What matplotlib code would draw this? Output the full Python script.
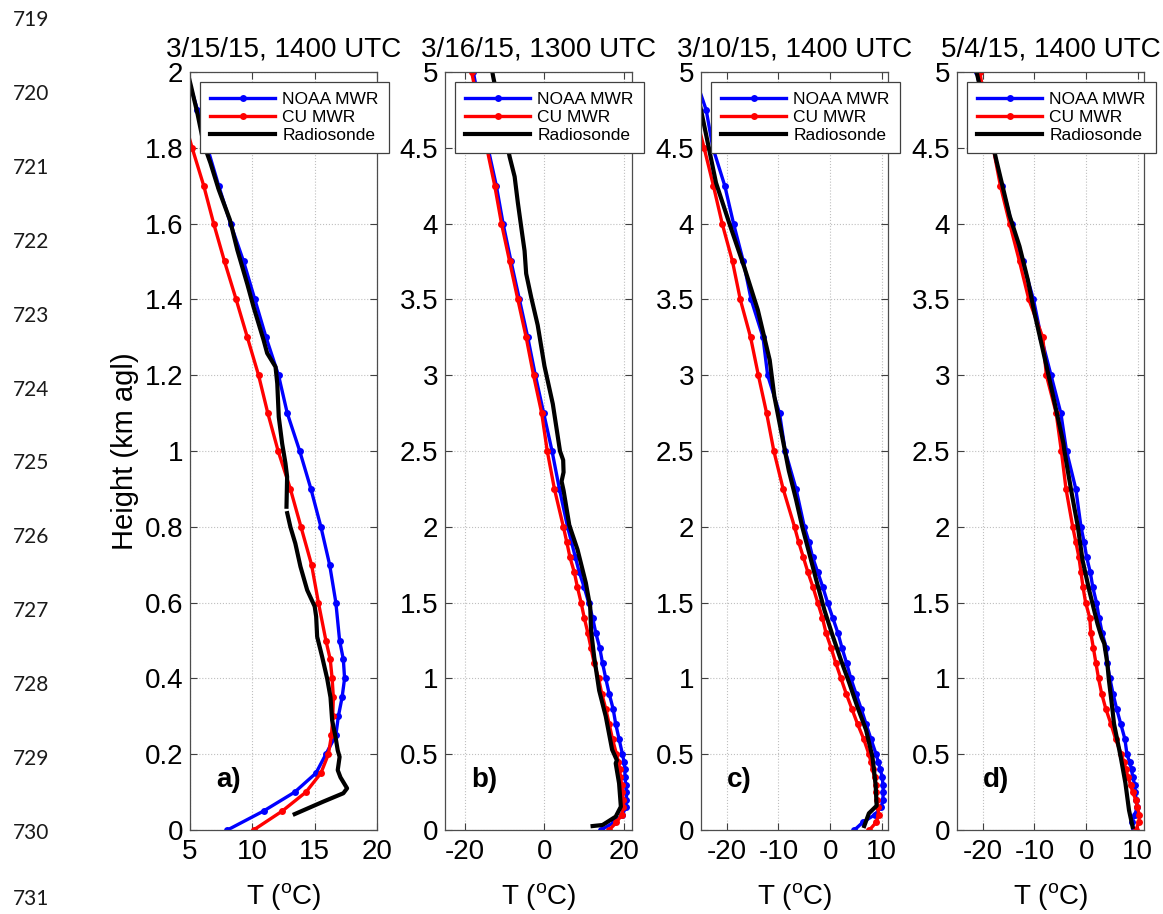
import numpy as np
import matplotlib
matplotlib.use("Agg")
import matplotlib.pyplot as plt

plt.rcParams["font.family"] = ["Liberation Sans", "DejaVu Sans"]
plt.rcParams["axes.unicode_minus"] = False
plt.rcParams["mathtext.fontset"] = "custom"
plt.rcParams["mathtext.rm"] = "Liberation Sans"

# MWR retrieval levels (km agl)
levels = [0, 0.05, 0.1, 0.15, 0.2, 0.25, 0.3, 0.35, 0.4, 0.45, 0.5,
          0.6, 0.7, 0.8, 0.9, 1.0, 1.1, 1.2, 1.3, 1.4, 1.5, 1.6, 1.7, 1.8, 1.9, 2.0,
          2.25, 2.5, 2.75, 3.0, 3.25, 3.5, 3.75, 4.0, 4.25, 4.5, 4.75, 5.0]

titles = ["3/15/15, 1400 UTC", "3/16/15, 1300 UTC", "3/10/15, 1400 UTC", "5/4/15, 1400 UTC"]
panel_tags = ["a)", "b)", "c)", "d)"]

# ---- a) 3/15/15 (levels up to 2 km) ----
noaa_a = [8.0, 10.9, 13.4, 15.1, 15.9, 16.7, 16.9, 17.2, 17.4, 17.3, 17.0,
          16.7, 16.2, 15.5, 14.7, 13.8, 12.8, 12.1, 11.1, 10.2, 9.3, 8.25, 7.3, 6.4, 5.6, 4.7]
cu_a = [10.1, 12.4, 14.3, 15.5, 16.1, 16.35, 16.45, 16.5, 16.4, 16.25, 15.9,
        15.3, 14.75, 13.9, 13.05, 12.07, 11.24, 10.5, 9.6, 8.7, 7.77, 6.9, 6.1, 5.17, 4.3, 3.5]
sonde_a_t = [13.4, 15.7, 17.3, 17.6, 17.07, 16.85, 17.0, 16.85, 16.67, 16.4, 16.27, 16.0,
             15.6, 15.2, 15.12, 15.0, 14.4, 13.86, 13.45, 13.05, 12.8, np.nan, 12.74, 12.79,
             12.66, 12.39, 12.12, 12.0, 11.86, 11.19, 10.9, 10.1, 9.6, 8.8, 8.2, 7.3, 6.64,
             6.1, 5.6, 5.1, 4.8]
sonde_a_h = [0.042, 0.075, 0.097, 0.11, 0.139, 0.158, 0.193, 0.21, 0.246, 0.29, 0.35, 0.40,
             0.457, 0.51, 0.563, 0.59, 0.633, 0.695, 0.756, 0.80, 0.836, np.nan, 0.853, 0.932,
             0.967, 1.02, 1.09, 1.178, 1.222, 1.258, 1.293, 1.38, 1.44, 1.53, 1.61, 1.69, 1.76,
             1.81, 1.89, 1.96, 2.0]

# ---- b) 3/16/15 ----
noaa_b = [14.2, 17.5, 19.6, 20.4, 20.6, 20.6, 20.4, 20.25, 20.2, 20.0, 19.6,
          18.75, 17.9, 17.25, 16.25, 15.4, 14.6, 13.9, 12.9, 12.1, 11.1, 10.0, 8.75, 7.75, 6.8, 5.8,
          3.75, 1.9, -0.2, -2.3, -4.2, -6.3, -8.4, -10.4, -12.1, -14.2, -16.0, -17.9]
cu_b = [16.25, 18.1, 19.4, 19.8, 19.8, 19.6, 19.4, 19.1, 18.9, 18.6, 18.1,
        17.1, 16.25, 15.4, 14.4, 13.6, 12.5, 11.7, 10.9, 10.0, 9.2, 8.3, 7.5, 6.4, 5.6, 4.75,
        2.5, 0.7, -0.7, -2.75, -4.6, -6.7, -8.75, -10.8, -12.5, -14.5, -16.4, -18.3]
sonde_b_t = [12.1, 14.6, 17.9, 19.2, 18.75, 17.9, 18.2, 17.0, 15.4, 13.75, 12.5, 11.7, 11.5,
             10.4, 8.3, 6.25, 4.8, 4.3, 4.8, 4.7, 3.9, 2.1, 0.0, -1.7, -3.3, -4.6, -5.0, -5.7,
             -6.7, -7.5, -8.75, -12.9, -13.1]
sonde_b_h = [0.026, 0.033, 0.088, 0.154, 0.308, 0.44, 0.46, 0.53, 0.75, 0.92, 1.14, 1.32, 1.47,
             1.63, 1.85, 2.01, 2.24, 2.3, 2.36, 2.44, 2.5, 2.81, 3.06, 3.33, 3.51, 3.67, 3.82, 3.95,
             4.14, 4.31, 4.44, 4.97, 5.0]

# ---- c) 3/10/15 ----
noaa_c = [4.7, 6.3, 8.6, 9.9, 10.2, 10.3, 10.2, 10.1, 9.7, 9.3, 8.9,
          7.9, 6.95, 6.0, 5.0, 4.0, 3.2, 2.3, 1.5, 0.5, -0.5, -1.4, -2.4, -3.4, -4.1, -5.0,
          -6.6, -8.7, -9.8, -12.1, -13.0, -15.3, -16.8, -18.7, -20.4, -22.7, -24.0, -26.5]
cu_c = [7.6, 8.9, 9.4, 9.2, 9.0, 8.9, 8.8, 8.6, 8.2, 7.9, 7.5,
        6.5, 5.3, 4.2, 3.1, 2.1, 1.1, 0.2, -0.8, -1.5, -2.4, -3.3, -4.3, -5.2, -6.1, -6.9,
        -9.1, -10.9, -12.3, -13.9, -15.4, -17.4, -18.9, -20.9, -22.6, -24.4, -26.3, -28.0]
sonde_c_t = [6.6, 7.5, 9.0, 8.8, 8.2, 6.95, 5.3, 3.7, 2.1, 0.5, -1.1, -2.7, -4.0, -5.4, -6.6,
             -8.0, -8.8, -10.8, -11.7, -14.0, -16.6, -19.5, -22.1, -25.0, -26.6]
sonde_c_h = [0.026, 0.11, 0.16, 0.3, 0.48, 0.66, 0.81, 0.97, 1.12, 1.28, 1.45, 1.65, 1.82, 2.0,
             2.18, 2.37, 2.51, 2.86, 3.10, 3.43, 3.71, 4.0, 4.27, 4.75, 5.0]

# ---- d) 5/4/15 ----
noaa_d = [9.3, 8.8, 9.4, 9.9, 9.7, 9.5, 9.4, 9.0, 8.8, 8.4, 7.9,
          7.5, 6.7, 5.9, 5.2, 4.6, 4.1, 3.9, 3.1, 2.5, 2.0, 1.3, 0.8, 0.1, -0.4, -1.0,
          -2.0, -3.8, -4.9, -6.8, -8.7, -10.2, -12.3, -14.4, -16.3, -18.0, -19.6, -21.2]
cu_d = [9.6, 10.2, 10.3, 9.9, 9.6, 9.0, 8.6, 8.1, 7.7, 7.3, 6.8,
        5.7, 4.8, 3.8, 3.0, 2.4, 1.9, 1.4, 0.9, 0.7, -0.1, -0.6, -1.0, -1.4, -2.0, -2.6,
        -3.9, -4.8, -5.8, -7.7, -8.4, -11.1, -12.9, -14.8, -16.6, -18.0, -19.3, -20.6]
sonde_d_t = [9.0, 8.3, 7.6, 6.7, 5.4, 4.97, 4.4, 4.1, 3.5, 3.0, 2.2, 0.6, -0.7, -1.6, -2.9,
             -4.2, -4.4, -6.5, -8.4, -10.0, -11.3, -12.9, -14.8, -17.4, -21.2]
sonde_d_h = [0.02, 0.13, 0.31, 0.48, 0.70, 0.83, 0.99, 1.1, 1.23, 1.27, 1.36, 1.58, 1.78, 2.0,
             2.24, 2.5, 2.55, 2.88, 3.17, 3.41, 3.63, 3.85, 4.05, 4.42, 5.0]

noaa = [noaa_a, noaa_b, noaa_c, noaa_d]
cu = [cu_a, cu_b, cu_c, cu_d]
sonde = [(sonde_a_t, sonde_a_h), (sonde_b_t, sonde_b_h),
         (sonde_c_t, sonde_c_h), (sonde_d_t, sonde_d_h)]

xlims = [(5, 20), (-25, 22), (-25, 11.2), (-25, 11.2)]
xticks = [[5, 10, 15, 20], [-20, 0, 20], [-20, -10, 0, 10], [-20, -10, 0, 10]]
ylims = [(0, 2), (0, 5), (0, 5), (0, 5)]
yticks_a = [0, 0.2, 0.4, 0.6, 0.8, 1, 1.2, 1.4, 1.6, 1.8, 2]
yticks_bcd = [0, 0.5, 1, 1.5, 2, 2.5, 3, 3.5, 4, 4.5, 5]

# manuscript line numbers in the left margin
line_numbers = [719, 720, 721, 722, 723, 724, 725, 726, 727, 728, 729, 730, 731]

fig = plt.figure(figsize=(11.63, 9.14), dpi=100)
W, H = 1163, 914
ax_left = [190, 445, 701, 957]

for i in range(4):
    ax = fig.add_axes([ax_left[i] / W, (H - 830) / H, 187 / W, 758 / H])
    h = levels[:len(noaa[i])]
    ax.plot(noaa[i], h, "-o", color="#0000ff", lw=2.4, ms=5, mew=0, label="NOAA MWR")
    ax.plot(cu[i], h, "-o", color="#ff0000", lw=2.4, ms=5, mew=0, label="CU MWR")
    ax.plot(sonde[i][0], sonde[i][1], "-", color="black", lw=3.0, label="Radiosonde")

    yt = yticks_a if i == 0 else yticks_bcd
    ax.set_xlim(*xlims[i])
    ax.set_ylim(*ylims[i])
    ax.set_xticks(xticks[i])
    ax.set_yticks(yt)
    ax.set_yticklabels(["%g" % v for v in yt])
    ax.grid(True, ls=":", color="0.75", lw=0.8)
    ax.tick_params(direction="in", top=True, right=True, length=5, width=0.8,
                   color="0.25", labelsize=20)
    ax.tick_params(axis="x", pad=6.5)
    ax.tick_params(axis="y", pad=5)
    for sp in ax.spines.values():
        sp.set_color("0.3")
        sp.set_linewidth(0.9)

    ax.set_title(titles[i], fontsize=20, pad=11)
    ax.set_xlabel("T ($^{\\mathrm{o}}$C)", fontsize=20, labelpad=12)
    if i == 0:
        ax.set_ylabel("Height (km agl)", fontsize=21, labelpad=4)
    ax.text(0.14, 0.066, panel_tags[i], transform=ax.transAxes, fontsize=20,
            fontweight="bold", va="center", ha="left")

    leg = ax.legend(loc="upper left", bbox_to_anchor=(0.052, 0.987), fontsize=12.5,
                    fancybox=False, framealpha=1, edgecolor="0.25", borderpad=0.6,
                    handlelength=3.75, handletextpad=0.4, labelspacing=0.14,
                    borderaxespad=0)
    leg.get_frame().set_linewidth(0.9)

for k, n in enumerate(line_numbers):
    y = min(20 + k * 73.9, 899)
    fig.text(13 / W, 1 - y / H, str(n), fontsize=15, va="center",
             ha="left", color="0.1", family=["Lato", "DejaVu Sans"])

fig.savefig("out.png", dpi=100)
